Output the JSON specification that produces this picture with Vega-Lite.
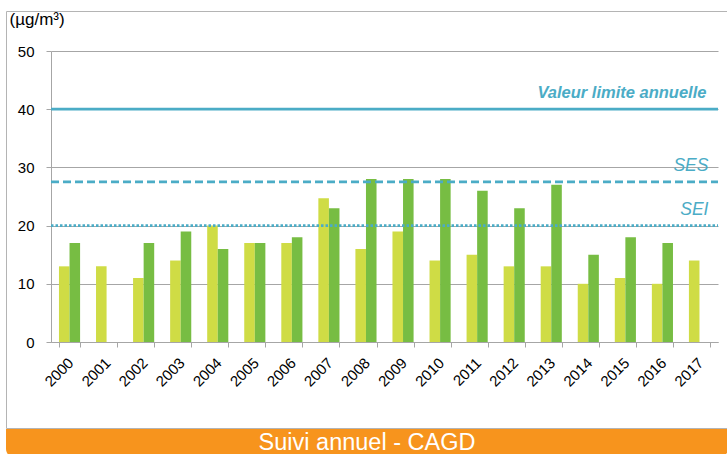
{
  "$schema": "https://vega.github.io/schema/vega-lite/v6.json",
  "background": "white",
  "padding": {"left": 5, "top": 9, "right": 0, "bottom": 0},
  "config": {"font": "Liberation Sans"},
  "datasets": {
    "bars": [
      {"annee": "2000", "serie": "A", "valeur": 13}, {"annee": "2000", "serie": "B", "valeur": 17},
      {"annee": "2001", "serie": "A", "valeur": 13},
      {"annee": "2002", "serie": "A", "valeur": 11}, {"annee": "2002", "serie": "B", "valeur": 17},
      {"annee": "2003", "serie": "A", "valeur": 14}, {"annee": "2003", "serie": "B", "valeur": 19},
      {"annee": "2004", "serie": "A", "valeur": 20}, {"annee": "2004", "serie": "B", "valeur": 16},
      {"annee": "2005", "serie": "A", "valeur": 17}, {"annee": "2005", "serie": "B", "valeur": 17},
      {"annee": "2006", "serie": "A", "valeur": 17}, {"annee": "2006", "serie": "B", "valeur": 18},
      {"annee": "2007", "serie": "A", "valeur": 24.7}, {"annee": "2007", "serie": "B", "valeur": 23},
      {"annee": "2008", "serie": "A", "valeur": 16}, {"annee": "2008", "serie": "B", "valeur": 28},
      {"annee": "2009", "serie": "A", "valeur": 19}, {"annee": "2009", "serie": "B", "valeur": 28},
      {"annee": "2010", "serie": "A", "valeur": 14}, {"annee": "2010", "serie": "B", "valeur": 28},
      {"annee": "2011", "serie": "A", "valeur": 15}, {"annee": "2011", "serie": "B", "valeur": 26},
      {"annee": "2012", "serie": "A", "valeur": 13}, {"annee": "2012", "serie": "B", "valeur": 23},
      {"annee": "2013", "serie": "A", "valeur": 13}, {"annee": "2013", "serie": "B", "valeur": 27},
      {"annee": "2014", "serie": "A", "valeur": 10}, {"annee": "2014", "serie": "B", "valeur": 15},
      {"annee": "2015", "serie": "A", "valeur": 11}, {"annee": "2015", "serie": "B", "valeur": 18},
      {"annee": "2016", "serie": "A", "valeur": 10}, {"annee": "2016", "serie": "B", "valeur": 17},
      {"annee": "2017", "serie": "A", "valeur": 14}
    ],
    "seuils": [
      {"nom": "Valeur limite annuelle", "valeur": 40},
      {"nom": "SES", "valeur": 27.5},
      {"nom": "SEI", "valeur": 20}
    ],
    "bandeau": [{"texte": "Suivi annuel - CAGD"}]
  },
  "vconcat": [
    {
      "width": 722,
      "height": 417,
      "view": {"stroke": "#B4B4B4", "strokeWidth": 1},
      "layer": [
        {
          "layer": [
            {
              "data": {"name": "bars"},
              "mark": {"type": "bar"},
              "encoding": {
                "x": {
                  "field": "annee", "type": "nominal",
                  "scale": {"range": [45, 712], "paddingInner": 0.43, "paddingOuter": 0.215},
                  "axis": {
                    "title": null, "labelAngle": -45, "labelFontSize": 15, "labelColor": "#000000",
                    "ticks": true, "tickBand": "extent", "tickSize": 5, "tickColor": "#A6A6A6",
                    "domainColor": "#A6A6A6", "labelPadding": 8, "labelOffset": -4, "grid": false,
                    "offset": -86
                  }
                },
                "xOffset": {"field": "serie", "type": "nominal"},
                "y": {
                  "field": "valeur", "type": "quantitative",
                  "scale": {"domain": [0, 50], "range": [331, 40]},
                  "axis": {
                    "values": [0, 10, 20, 30, 40, 50], "offset": -45,
                    "title": "(µg/m³)", "titleAngle": 0, "titleAlign": "left", "titleBaseline": "top",
                    "titleX": -42, "titleY": 0, "titleFontSize": 17, "titleFontWeight": "normal", "titleColor": "#000000",
                    "labelFontSize": 15, "labelColor": "#000000", "labelPadding": 12, "tickSize": 5,
                    "tickColor": "#A6A6A6", "domainColor": "#A6A6A6", "gridColor": "#A6A6A6"
                  }
                },
                "color": {
                  "field": "serie", "type": "nominal",
                  "scale": {"domain": ["A", "B"], "range": ["#CFDC45", "#77BD43"]},
                  "legend": null
                }
              }
            },
            {
              "data": {"name": "seuils"},
              "transform": [{"filter": "datum.nom == 'Valeur limite annuelle'"}],
              "mark": {"type": "text", "align": "right", "baseline": "alphabetic", "dx": 7, "dy": -11,
                       "fontSize": 16.5, "fontWeight": "bold", "fontStyle": "italic", "color": "#4BACC6"},
              "encoding": {
                "x": {"datum": "2017", "type": "nominal", "axis": null},
                "y": {"field": "valeur", "type": "quantitative"},
                "text": {"field": "nom"}
              }
            },
            {
              "data": {"name": "seuils"},
              "transform": [{"filter": "datum.nom != 'Valeur limite annuelle'"}],
              "mark": {"type": "text", "align": "right", "baseline": "alphabetic", "dx": 9, "dy": -11,
                       "fontSize": 17.5, "fontStyle": "italic", "color": "#4BACC6"},
              "encoding": {
                "x": {"datum": "2017", "type": "nominal", "axis": null},
                "y": {"field": "valeur", "type": "quantitative"},
                "text": {"field": "nom"}
              }
            }
          ],
          "resolve": {"axis": {"x": "independent"}}
        },
        {
          "data": {"name": "seuils"},
          "mark": {"type": "rule", "color": "#4BACC6", "strokeWidth": 2.75},
          "encoding": {
            "x": {"datum": 0, "type": "quantitative", "scale": {"domain": [0, 1], "range": [45, 712]}, "axis": null},
            "x2": {"datum": 1},
            "y": {"field": "valeur", "type": "quantitative"},
            "strokeDash": {
              "field": "nom", "type": "nominal",
              "scale": {"domain": ["Valeur limite annuelle", "SES", "SEI"], "range": [[1, 0], [8, 4], [2.5, 2]]},
              "legend": null
            }
          }
        }
      ],
      "resolve": {"scale": {"x": "independent"}, "axis": {"x": "independent"}}
    },
    {
      "width": 722,
      "height": 28,
      "view": {"stroke": null},
      "layer": [
        {
          "data": {"name": "bandeau"},
          "mark": {"type": "rect", "color": "#F7941D", "cornerRadiusBottomLeft": 8, "cornerRadiusBottomRight": 8},
          "encoding": {}
        },
        {
          "data": {"name": "bandeau"},
          "mark": {"type": "text", "fontSize": 23.5, "color": "#FFFFFF", "baseline": "middle", "align": "center", "dy": 0},
          "encoding": {"text": {"field": "texte"}}
        }
      ]
    }
  ],
  "spacing": 0
}
